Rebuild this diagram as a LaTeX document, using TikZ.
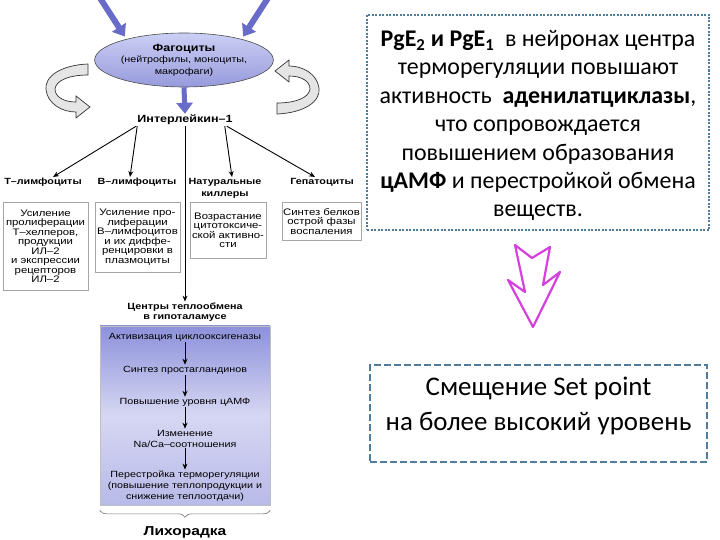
\documentclass[tikz,border=0pt]{standalone}
\usepackage{fontspec}
\setmainfont{Liberation Sans}[FakeStretch=1.2]
\newfontfamily\calibri{Carlito}
\usetikzlibrary{arrows.meta,decorations.pathreplacing,shapes.geometric}
\definecolor{phagblue}{RGB}{104,108,200}
\definecolor{ellTop}{RGB}{204,207,244}
\definecolor{ellBot}{RGB}{150,154,220}
\definecolor{chainTop}{RGB}{140,145,218}
\definecolor{chainMid}{RGB}{214,215,243}
\definecolor{chainBot}{RGB}{184,186,232}
\definecolor{framebl}{RGB}{80,124,158}
\definecolor{pinkarr}{RGB}{214,64,222}
\def\boxtop{202}
\tikzset{
  lbl/.style={font=\bfseries\fontsize{9}{10}\selectfont, align=center, inner sep=1bp},
  cellbox/.style={draw=black!35, line width=0.6bp, anchor=north, align=center,
    inner sep=1bp, font=\fontsize{9.5}{9.6}\selectfont},
  stepnode/.style={align=center, font=\fontsize{9}{11}\selectfont, inner sep=1bp},
  blk/.style={-{Stealth[length=6bp,width=5bp]}, line width=0.9bp},
  blu/.style={phagblue, line width=6bp, -{Triangle[length=11bp,width=16bp]}},
  brc/.style={decorate, decoration={brace, mirror, amplitude=7bp}, black!55, line width=0.6bp},
  curl/.pic={
    \draw[black!80, line width=0.7bp, fill=black!10]
      (21,-26) .. controls (-5,-25) and (-23,-14) .. (-21,0)
      .. controls (-19,14) and (-5,22) .. (9,22) -- (9,28) -- (23,17) -- (9,6) -- (9,12)
      .. controls (-3,12) and (-12,7) .. (-12,-1)
      .. controls (-11,-10) and (3,-15) .. (21,-15) -- cycle;
  }
}

\begin{document}
\begin{tikzpicture}[x=1bp, y=-1bp]
    \useasboundingbox (0,0) rectangle (720,540);
    % Phagocytes.
    \node[ellipse, draw=black!70, line width=0.6bp, minimum width=168bp, minimum height=54bp,
      inner sep=0pt, top color=ellTop, bottom color=ellBot, align=center,
      font=\fontsize{9}{11.5}\selectfont] (phag) at (184,60)
      {{\bfseries\fontsize{10.5}{11.5}\selectfont Фагоциты}\\(нейтрофилы, моноциты,\\макрофаги)};
    \coordinate (inL) at (100,-2);
    \coordinate (inR) at (268,-2);
    \draw[blu, shorten >=3bp] (inL) -- (phag.160);
    \draw[blu, shorten >=3bp] (inR) -- (phag.20);
    \pic at (67,90) {curl};
    \pic[rotate=180] at (298,88) {curl};
    % Interleukin.
    \node[lbl, font=\bfseries\fontsize{10.5}{12}\selectfont] (il1) at (185,120) {Интерлейкин–1};
    \draw[blu, line width=5bp] (phag.south) -- (il1.north);
    % Target cells.
    \node[lbl, anchor=north] (tly) at (43,177) {Т–лимфоциты};
    \node[lbl, anchor=north] (bly) at (137,177) {В–лимфоциты};
    \node[lbl, anchor=north, font=\bfseries\fontsize{9}{12.5}\selectfont] (nk) at (225,177) {Натуральные\\киллеры};
    \node[lbl, anchor=north] (hep) at (322,177) {Гепатоциты};
    \draw[blk] (il1.south west) -- ([xshift=10bp]tly.north);
    \draw[blk] ([xshift=1bp]il1.south west) -- ([xshift=-7bp]bly.north);
    \draw[blk] ([xshift=-9bp]il1.south east) -- ([xshift=7bp]nk.north);
    \draw[blk] ([xshift=-7bp]il1.south east) -- ([xshift=-7bp]hep.north);
    % Effects.
    \node[cellbox, minimum width=85bp, minimum height=88bp] (tbox) at (45.5,\boxtop)
      {Усиление\\пролиферации\\Т–хелперов,\\продукции\\ИЛ–2\\и экспрессии\\рецепторов\\ИЛ–2};
    \node[cellbox, minimum width=85bp, minimum height=70bp] (bbox) at (137.5,\boxtop)
      {Усиление про-\\лиферации\\В–лимфоцитов\\и их диффе-\\ренцировки в\\плазмоциты};
    \node[cellbox, minimum width=76bp, minimum height=56bp] (nkbox) at (228,\boxtop)
      {Возрастание\\цитотоксиче-\\ской активно-\\сти};
    \node[cellbox, minimum width=77bp, minimum height=38bp] (hepbox) at (321.5,\boxtop)
      {Синтез белков\\острой фазы\\воспаления};
    % Hypothalamus.
    \node[lbl, font=\bfseries\fontsize{9}{10}\selectfont] (hypo) at (185,312) {Центры теплообмена\\в гипоталамусе};
    \draw[blk] (il1.south) -- (hypo.north);
    \node[draw=black!25, line width=0.6bp, minimum width=170bp, minimum height=179bp,
      top color=chainTop, bottom color=chainBot, middle color=chainMid] (chain) at (185,415.5) {};
    \node[stepnode] (s1) at (185,337) {Активизация циклооксигеназы};
    \node[stepnode] (s2) at (185,370) {Синтез простагландинов};
    \node[stepnode] (s3) at (185,402) {Повышение уровня цАМФ};
    \node[stepnode] (s4) at (185,438.5) {Изменение\\Na/Ca–соотношения};
    \node[stepnode] (s5) at (185,486) {Перестройка терморегуляции\\(повышение теплопродукции и\\снижение теплоотдачи)};
    \foreach \a/\b in {s1/s2, s2/s3, s3/s4, s4/s5}
      \draw[blk] (\a) -- (\b);
    \draw[brc] ([yshift=-5bp]chain.south west) -- ([yshift=-5bp]chain.south east);
    \node[lbl, font=\bfseries\fontsize{13}{14}\selectfont] (fever) at (185,532) {Лихорадка};
    % Right column.
    \node[draw=framebl, line width=2.5bp, dash pattern=on 2bp off 1.5bp,
      minimum width=342bp, minimum height=215bp] (pgeframe) at (538,122.5) {};
    \node[align=center, font=\calibri\fontsize{24}{28.5}\selectfont] (pge) at (538,125.5)
      {\textbf{PgE\textsubscript{2} и PgE\textsubscript{1}}\ \ в нейронах центра\\
       терморегуляции повышают\\
       активность \ \textbf{аденилатциклазы},\\
       что сопровождается\\
       повышением образования\\
       \textbf{цАМФ} и перестройкой обмена\\
       веществ.};
    \draw[pinkarr, line width=2.2bp, line join=round, fill=white]
      (515,245) -- (532,258) -- (550,247) -- (543,285) -- (560,272)
      -- (533,327) -- (508,280) -- (525,292) -- cycle;
    \node[draw=framebl, line width=2.5bp, dash pattern=on 7bp off 3bp,
      minimum width=337bp, minimum height=97bp] (setframe) at (538.5,413.5) {};
    \node[align=center, font=\calibri\fontsize{27}{35}\selectfont] (setpt) at (538.5,405.5)
      {Смещение Set point\\на более высокий уровень};
\end{tikzpicture}
\end{document}
